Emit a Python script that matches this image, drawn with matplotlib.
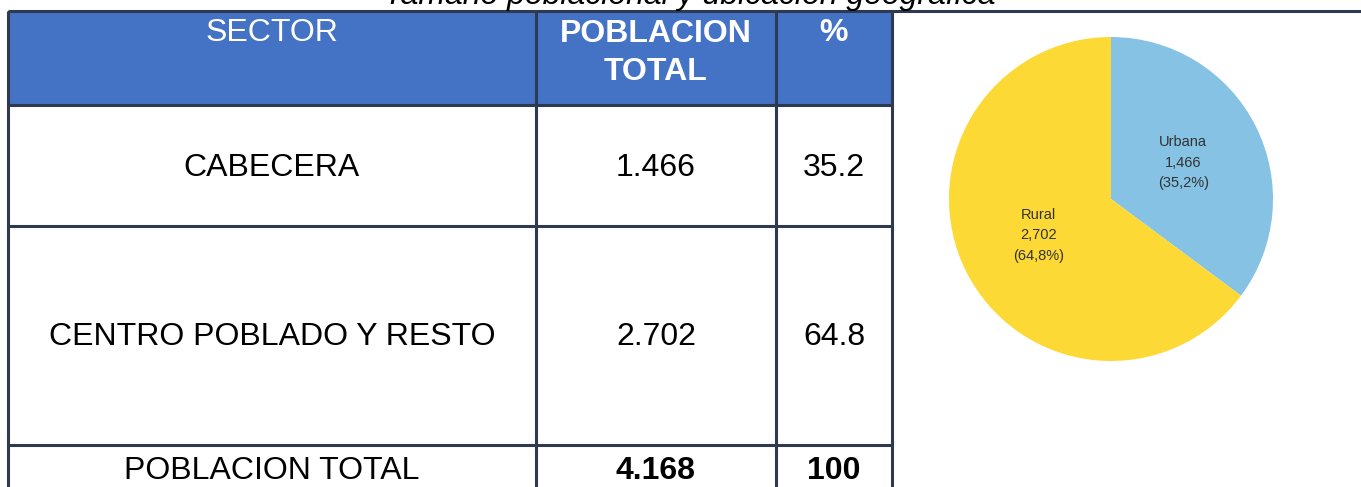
import matplotlib
matplotlib.use('Agg')
import matplotlib.pyplot as plt
from matplotlib.patches import Rectangle

plt.rcParams['font.family'] = ['Liberation Sans', 'DejaVu Sans']

# data
titulo = 'Tamaño poblacional y ubicación geográfica'
encabezados = ['SECTOR', 'POBLACION\nTOTAL', '%']
sectores = ['CABECERA', 'CENTRO POBLADO Y RESTO', 'POBLACION TOTAL']
poblacion = [1466, 2702, 4168]
porcentaje = [35.2, 64.8, 100]
pie_labels = ['Urbana', 'Rural']
pie_values = [1466, 2702]
pie_colors = ['#86c2e4', '#fcd935']

W, H = 1361, 487
border = '#2e3a4f'
header_blue = '#4472c4'

# layout of the table in pixels
col_x = [8, 536, 776, 892]
row_y = [11, 105, 226, 445, 520]


def miles(v):
    return f'{v:,}'.replace(',', '.')


fig = plt.figure(figsize=(W / 100, H / 100), dpi=100)
ax = fig.add_axes([0, 0, 1, 1])
ax.set_xlim(0, W)
ax.set_ylim(H, 0)
ax.axis('off')

# title (its top is cut off in the original)
ax.text(690, 4, titulo, ha='center', va='baseline', fontsize=23,
        style='italic', color='black')
ax.plot([col_x[0], W], [row_y[0], row_y[0]], color=border, lw=2.2,
        solid_capstyle='butt')

# header
ax.add_patch(Rectangle((col_x[0], row_y[0]), col_x[-1] - col_x[0],
                       row_y[1] - row_y[0], color=header_blue, lw=0))
weights = ['normal', 'bold', 'bold']
for i, txt in enumerate(encabezados):
    cx = (col_x[i] + col_x[i + 1]) / 2
    ty = 53 if '\n' in txt else 33
    ax.text(cx, ty, txt, ha='center', va='center', fontsize=23, color='white',
            fontweight=weights[i], linespacing=1.32)

# body rows
text_y = [168, 337, 471]
for r in range(len(sectores)):
    w = 'bold' if r == len(sectores) - 1 else 'normal'
    cells = [sectores[r], miles(poblacion[r]), f'{porcentaje[r]:g}']
    for c, txt in enumerate(cells):
        cx = (col_x[c] + col_x[c + 1]) / 2
        ax.text(cx, text_y[r], txt, ha='center', va='center', fontsize=23,
                color='black', fontweight=w if c > 0 else 'normal')

# grid lines
for x in col_x:
    ax.plot([x, x], [row_y[0], row_y[-1]], color=border, lw=2.2,
            solid_capstyle='butt')
for y in row_y[1:-1]:
    ax.plot([col_x[0], col_x[-1]], [y, y], color=border, lw=2.2,
            solid_capstyle='butt')

# pie chart
cx, cy, rad = 1111, 199, 162
pax = fig.add_axes([(cx - rad) / W, (H - cy - rad) / H, 2 * rad / W, 2 * rad / H])
total = sum(pie_values)
labels = []
for name, v in zip(pie_labels, pie_values):
    pct = f'{100 * v / total:.1f}'.replace('.', ',')
    labels.append(f'{name}\n{v:,}\n({pct}%)')
pax.pie(pie_values, colors=pie_colors, startangle=90, counterclock=False,
        labels=labels, labeldistance=0.5,
        textprops={'ha': 'center', 'va': 'center', 'fontsize': 10.5,
                   'color': '#333333', 'linespacing': 1.6},
        wedgeprops={'linewidth': 0})
pax.set_xlim(-1, 1)
pax.set_ylim(-1, 1)
pax.set_aspect('equal')

fig.savefig('out.png', dpi=100)
